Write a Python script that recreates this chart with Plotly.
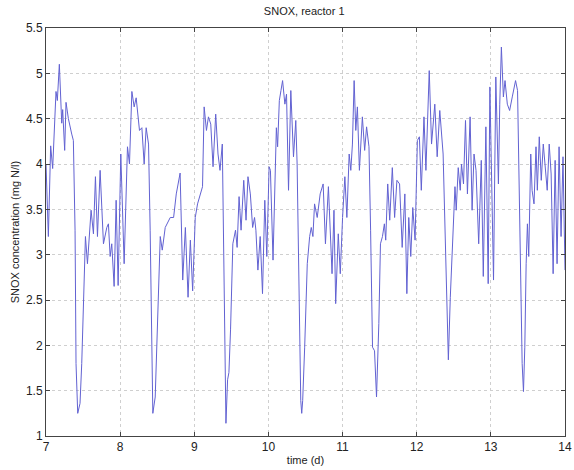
import plotly.graph_objects as go

time_d = [
    7.0, 7.032, 7.063, 7.09, 7.135, 7.153, 7.18, 7.212, 7.225, 7.252, 7.27, 7.302, 7.347, 7.369,
    7.392, 7.405, 7.428, 7.459, 7.482, 7.505, 7.532, 7.559, 7.586, 7.608, 7.64, 7.667, 7.694,
    7.73, 7.775, 7.82, 7.842, 7.865, 7.887, 7.919, 7.946, 7.973, 8.009, 8.054, 8.099, 8.126,
    8.158, 8.189, 8.216, 8.261, 8.293, 8.324, 8.351, 8.383, 8.405, 8.428, 8.441, 8.473, 8.505,
    8.541, 8.568, 8.608, 8.676, 8.721, 8.757,
    8.809, 8.844, 8.88, 8.916, 8.947, 8.978, 9.013, 9.044, 9.089, 9.111, 9.133, 9.164, 9.191,
    9.222, 9.253, 9.289, 9.32, 9.347, 9.378, 9.391, 9.409, 9.427, 9.449, 9.467, 9.489, 9.52,
    9.556, 9.578, 9.604, 9.631, 9.667, 9.698, 9.724, 9.756, 9.787, 9.813, 9.831, 9.858, 9.889,
    9.92, 9.951, 9.978, 10.009, 10.027, 10.062, 10.089, 10.107, 10.124, 10.147, 10.169, 10.191,
    10.222, 10.244, 10.271, 10.302, 10.338, 10.369, 10.387, 10.404, 10.422, 10.436, 10.449,
    10.462, 10.489, 10.524, 10.556, 10.578, 10.6, 10.622, 10.658, 10.698, 10.738, 10.769,
    10.809, 10.858, 10.884,
    10.907, 10.942, 10.969, 11.0, 11.031, 11.058, 11.089, 11.111, 11.133, 11.156, 11.178, 11.2,
    11.227, 11.267, 11.298, 11.324, 11.356, 11.378, 11.404, 11.431, 11.458, 11.489, 11.511,
    11.538, 11.564, 11.582, 11.609, 11.636, 11.671, 11.702, 11.733, 11.769, 11.804, 11.84,
    11.867, 11.893, 11.92, 11.947, 11.978, 12.009, 12.036, 12.062, 12.098, 12.124, 12.169,
    12.2, 12.244, 12.276, 12.311, 12.356, 12.382, 12.409, 12.427, 12.453, 12.489, 12.516,
    12.533, 12.56, 12.587, 12.604, 12.631, 12.658, 12.684, 12.72, 12.747, 12.773, 12.8, 12.836,
    12.871, 12.898, 12.933, 12.964, 12.987, 13.009, 13.036, 13.067, 13.102, 13.12, 13.142,
    13.169, 13.191, 13.222, 13.253, 13.289, 13.333, 13.36, 13.387, 13.404, 13.422, 13.44,
    13.458, 13.476, 13.493, 13.511, 13.538, 13.556, 13.582, 13.609, 13.627, 13.653, 13.68,
    13.707, 13.733, 13.76, 13.787, 13.813, 13.84, 13.867, 13.893, 13.92, 13.947, 13.973, 14.0,
]

snox = [
    4.0, 3.2, 4.2, 3.95, 4.8, 4.7, 5.1, 4.45, 4.6, 4.15, 4.68, 4.5, 4.33, 4.26,
    3.27, 1.8, 1.25, 1.36, 1.8, 2.35, 3.2, 2.9, 3.27, 3.49, 3.23, 3.86, 3.2,
    3.93, 3.12, 3.3, 3.34, 2.98, 3.12, 2.65, 3.6, 2.66, 4.11, 2.9, 4.19, 4.0,
    4.8, 4.63, 4.73, 4.37, 4.4, 4.0, 4.4, 4.22, 3.27, 1.8, 1.25, 1.43, 2.17,
    3.2, 3.05, 3.3, 3.41, 3.41, 3.67,
    3.9, 2.72, 3.3, 2.53, 3.16, 2.6, 3.41, 3.56, 3.7, 3.75, 4.63, 4.37, 4.52,
    4.44, 3.97, 4.55, 4.11, 3.93, 4.22, 3.27, 1.8, 1.14, 1.62, 1.7, 2.17, 3.12,
    3.27, 3.08, 3.64, 3.27, 3.82, 3.38, 3.86, 3.67, 3.3, 3.41, 3.27, 2.83, 3.2,
    2.57, 3.6, 2.98, 3.97, 3.93, 2.94, 4.0, 4.4, 4.19, 4.7, 4.81, 4.92,
    4.66, 4.77, 3.71, 4.81, 4.08, 4.48, 4.0, 2.9, 1.8, 1.39, 1.25,
    1.39, 1.98, 2.9, 3.2, 3.3, 3.2, 3.56, 3.41, 3.67, 3.78, 3.12,
    3.75, 2.79, 3.49,
    2.46, 3.23, 2.79, 3.41, 3.86, 3.41, 4.11, 3.93, 4.22, 4.92, 4.37, 4.63,
    3.93, 4.52, 4.15, 4.41, 4.19, 3.27, 1.98, 1.94, 1.43, 2.24, 3.12,
    3.2, 3.34, 3.16, 3.78, 3.38, 3.96, 3.41, 3.82, 3.78, 3.08, 3.67,
    2.57, 3.41, 2.98, 3.52, 3.16, 4.26, 4.3, 3.71, 4.52, 3.93, 5.03,
    4.22, 4.66, 4.08, 4.59, 4.11, 3.27, 2.17, 1.84, 2.53, 3.27, 3.75,
    3.49, 3.96, 3.71, 4.0, 3.78, 4.48, 3.67, 4.52, 3.49, 4.11, 3.93, 3.12,
    4.04, 2.76, 4.41, 2.68, 4.85, 4.0, 2.72, 4.96, 3.78, 4.66, 5.29,
    4.74, 4.92, 4.66, 4.59, 4.74, 4.92, 4.81, 3.64, 2.53, 1.8, 1.49,
    1.98, 2.9, 3.34, 2.98, 4.11, 3.71, 3.56, 4.19, 3.71, 4.3, 3.82,
    4.22, 3.93, 3.71, 4.22, 3.89, 2.79, 4.04, 2.9, 4.19, 3.2, 4.08, 2.83,
]

x_ticks = [7, 8, 9, 10, 11, 12, 13, 14]
y_ticks = [1, 1.5, 2, 2.5, 3, 3.5, 4, 4.5, 5, 5.5]

fig = go.Figure()
fig.add_trace(go.Scatter(
    x=time_d, y=snox, mode="lines",
    line=dict(color="#6262d2", width=1),
    showlegend=False,
))

axis_common = dict(
    showline=True, linecolor="#444444", linewidth=1, mirror="ticks",
    ticks="inside", ticklen=4, tickcolor="#444444",
    showgrid=True, gridcolor="#cfcfcf", griddash="dot", gridwidth=1,
    zeroline=False, ticklabeloverflow="allow", automargin=False,
    tickfont=dict(family="Liberation Sans, Arial", size=12, color="#222222"),
)

fig.update_layout(
    width=574, height=470,
    margin=dict(l=46, r=9, t=28, b=34),
    paper_bgcolor="white", plot_bgcolor="white",
    title=dict(text="SNOX, reactor 1", x=0.53, xanchor="center", y=0.985, yanchor="top",
               font=dict(family="Liberation Sans, Arial", size=11, color="#222222")),
    xaxis=dict(range=[7, 14], tickvals=x_ticks,
               title=dict(text="time (d)", standoff=2,
                          font=dict(family="Liberation Sans, Arial", size=11, color="#222222")),
               **axis_common),
    yaxis=dict(range=[1, 5.5], tickvals=y_ticks,
               title=dict(text="SNOX concentration (mg N/l)", standoff=4,
                          font=dict(family="Liberation Sans, Arial", size=11, color="#222222")),
               **axis_common),
)

fig.write_html("out.html")
